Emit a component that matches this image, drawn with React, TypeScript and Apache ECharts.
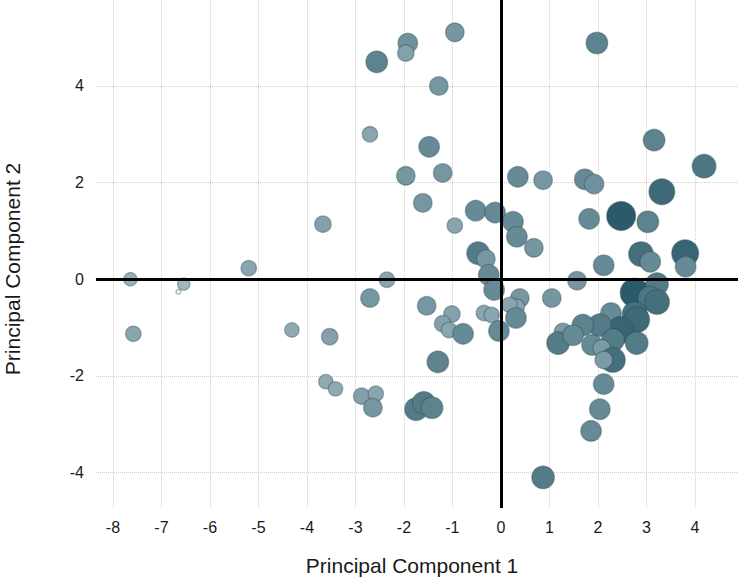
import React, { useEffect, useRef } from "react";
import * as echarts from "echarts";

const xTicks = [-8, -7, -6, -5, -4, -3, -2, -1, 0, 1, 2, 3, 4];
const yTicks = [-4, -2, 0, 2, 4];
const xTitle = "Principal Component 1";
const yTitle = "Principal Component 2";

// principal component scores
const pc1 = [
  -0.95, -1.92, -1.96, -2.56, -1.28, -2.7, -1.48, -1.2, -1.96, -1.61,
  -3.67, -0.95, -0.52, -0.12, 0.25, 0.35, 0.87, 1.73, 1.92, 1.98,
  3.16, 4.19, 3.32, 2.48, 3.03, 1.82, 0.33, 0.68, -0.47, -0.31,
  -0.25, -0.14, 2.12, 2.89, 3.08, 3.8, 3.81, 1.57, -2.35, 1.05,
  0.39, 0.33, 0.18, 0.31, -1.53, -1.01, -1.2, -1.07, -0.78, -0.35,
  -0.19, -0.04, -1.3, 2.76, 3.22, 3.07, 3.22, 2.76, 2.8, 2.27,
  2.47, 2.04, 1.69, 2.8, 2.31, 1.28, 1.18, 1.49, 1.88, 2.08,
  2.31, 2.12, 2.12, 2.04, 1.86, 0.87, -7.64, -6.54, -6.65, -7.58,
  -5.2, -4.31, -3.53, -2.7, -3.61, -3.41, -2.87, -2.58, -2.64, -1.75,
  -1.59, -1.42,
];
const pc2 = [
  5.11, 4.89, 4.68, 4.5, 4.0, 3.0, 2.74, 2.2, 2.14, 1.58,
  1.14, 1.11, 1.42, 1.38, 1.19, 2.12, 2.05, 2.07, 1.97, 4.89,
  2.88, 2.34, 1.81, 1.31, 1.19, 1.25, 0.88, 0.65, 0.54, 0.42,
  0.09, -0.22, 0.29, 0.52, 0.36, 0.54, 0.26, -0.03, -0.01, -0.39,
  -0.39, -0.57, -0.53, -0.8, -0.55, -0.72, -0.92, -1.05, -1.13, -0.7,
  -0.74, -1.07, -1.71, -0.28, -0.1, -0.39, -0.47, -0.72, -0.84, -0.7,
  -1.05, -0.95, -0.95, -1.32, -1.26, -1.09, -1.32, -1.16, -1.36, -1.43,
  -1.67, -1.67, -2.17, -2.69, -3.14, -4.1, 0.0, -0.1, -0.26, -1.13,
  0.23, -1.05, -1.19, -0.39, -2.12, -2.27, -2.42, -2.37, -2.66, -2.69,
  -2.56, -2.66,
];
// weight of each observation (drives bubble size and shade)
const weight = [
  18, 19, 16, 21, 18, 15, 20, 18, 18, 18,
  16, 15, 20, 20, 20, 20, 18, 20, 19, 21,
  21, 23, 25, 28, 21, 20, 20, 18, 22, 18,
  20, 20, 20, 24, 20, 26, 20, 18, 15, 18,
  18, 15, 15, 20, 18, 16, 16, 15, 20, 15,
  15, 20, 21, 28, 22, 23, 24, 24, 25, 20,
  26, 22, 21, 22, 22, 17, 22, 20, 20, 17,
  24, 17, 20, 20, 20, 22, 13, 12, 5, 15,
  15, 14, 16, 18, 14, 14, 16, 15, 18, 22,
  22, 21,
];

export default function App() {
  const ref = useRef<HTMLDivElement>(null);
  useEffect(() => {
    if (!ref.current) return;
    const chart = echarts.init(ref.current, null, { renderer: "svg" });
    const data = pc1.map((x, i) => [x, pc2[i], weight[i]]);
    const font = "'Liberation Sans', Arial, sans-serif";
    const gridLines = [
      ...xTicks.map((v) => ({ xAxis: v })),
      ...yTicks.map((v) => ({ yAxis: v })),
    ];
    chart.setOption({
      animation: false,
      backgroundColor: "#ffffff",
      grid: { left: 96, right: 4, top: 0, bottom: 69 },
      xAxis: {
        type: "value",
        min: -8.35,
        max: 4.89,
        axisLine: { show: true, lineStyle: { color: "#d4d4d4", width: 1.5 } },
        axisTick: {
          show: true,
          customValues: xTicks,
          length: 5,
          lineStyle: { color: "#dddddd", type: "dotted" },
        },
        axisLabel: {
          customValues: xTicks,
          margin: 11,
          color: "#1a1a1a",
          fontSize: 16,
          fontFamily: font,
        },
        splitLine: { show: false },
      },
      yAxis: {
        type: "value",
        min: -4.735,
        max: 5.78,
        axisLine: { show: true, lineStyle: { color: "#d4d4d4", width: 1.5 } },
        axisTick: {
          show: true,
          customValues: yTicks,
          length: 5,
          lineStyle: { color: "#dddddd", type: "dotted" },
        },
        axisLabel: {
          customValues: yTicks,
          margin: 12,
          color: "#1a1a1a",
          fontSize: 16,
          fontFamily: font,
        },
        splitLine: { show: false },
      },
      visualMap: {
        show: false,
        type: "continuous",
        dimension: 2,
        seriesIndex: 1,
        min: 5,
        max: 28,
        inRange: {
          symbolSize: [5, 29],
          color: ["#eef2f3", "#b5c8cf", "#8ea9b3", "#71929e", "#48737f", "#2b5a6b"],
        },
      },
      series: [
        {
          type: "scatter",
          z: 1,
          data: [],
          silent: true,
          markLine: {
            z: 0,
            silent: true,
            symbol: "none",
            label: { show: false },
            lineStyle: { color: "#cfcfcf", type: "dotted", width: 1 },
            data: gridLines,
          },
        },
        {
          type: "scatter",
          z: 2,
          data,
          itemStyle: {
            opacity: 1,
            borderColor: "rgba(45,75,85,0.4)",
            borderWidth: 1.3,
          },
        },
        {
          type: "scatter",
          z: 3,
          data: [],
          silent: true,
          markLine: {
            z: 10,
            silent: true,
            symbol: "none",
            label: { show: false },
            lineStyle: { color: "#000000", type: "solid", width: 3 },
            data: [{ xAxis: 0 }, { yAxis: 0 }],
          },
        },
      ],
      graphic: [
        {
          type: "text",
          x: 412,
          y: 565,
          style: {
            text: xTitle,
            fontSize: 21,
            fontFamily: font,
            fill: "#1a1a1a",
            textAlign: "center",
            textVerticalAlign: "middle",
          },
        },
        {
          type: "text",
          x: 12,
          y: 269,
          rotation: Math.PI / 2,
          style: {
            text: yTitle,
            fontSize: 21,
            fontFamily: font,
            fill: "#1a1a1a",
            textAlign: "center",
            textVerticalAlign: "middle",
          },
        },
      ],
    });
    return () => chart.dispose();
  }, []);
  return (
    <div
      ref={ref}
      style={{ position: "fixed", left: 0, top: 0, width: 742, height: 577 }}
    />
  );
}
